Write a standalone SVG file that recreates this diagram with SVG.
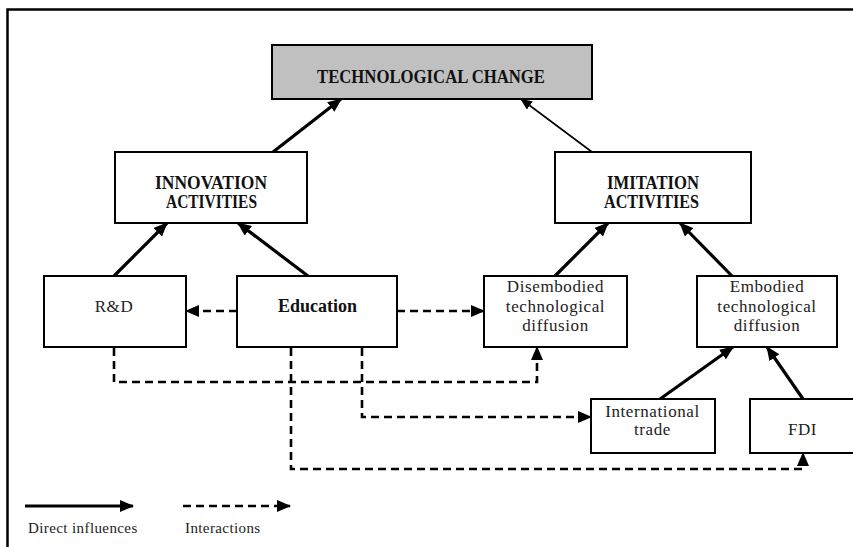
<svg xmlns="http://www.w3.org/2000/svg" width="853" height="547" viewBox="0 0 853 547">
  <style>
    .box { fill: #ffffff; stroke: #000000; stroke-width: 2; }
    .grey { fill: #c0c0c0; }
    .caps { font-family: "Liberation Serif", "DejaVu Serif", serif; font-size: 18px; font-weight: bold; fill: #111111; text-anchor: middle; }
    .small { font-family: "Liberation Serif", "DejaVu Serif", serif; font-size: 17px; letter-spacing: 0.6px; fill: #222222; text-anchor: middle; }
    .edu { font-family: "Liberation Serif", "DejaVu Serif", serif; font-size: 18px; font-weight: bold; fill: #111111; text-anchor: middle; }
    .legend { font-family: "Liberation Serif", "DejaVu Serif", serif; font-size: 15px; letter-spacing: 0.4px; fill: #222222; }
    .solid { fill: none; stroke: #000000; stroke-width: 3.2; }
    .thin { fill: none; stroke: #000000; stroke-width: 1.6; }
    .dash { fill: none; stroke: #000000; stroke-width: 2.6; stroke-dasharray: 8 5; }
  </style>
  <defs>
    <marker id="head" markerUnits="userSpaceOnUse" markerWidth="14" markerHeight="12" refX="13" refY="6" orient="auto">
      <path d="M0,0 L14,6 L0,12 Z" fill="#000000"/>
    </marker>
    <marker id="headSmall" markerUnits="userSpaceOnUse" markerWidth="12" markerHeight="10" refX="11" refY="5" orient="auto">
      <path d="M0,0 L12,5 L0,10 Z" fill="#000000"/>
    </marker>
  </defs>

  <rect width="853" height="547" fill="#ffffff"/>
  <!-- outer frame (top and left edges) -->
  <path d="M7.5,547 V9.5 H853" fill="none" stroke="#000000" stroke-width="2.5"/>

  <g id="connectors">
    <!-- direct influences -->
    <line class="solid" x1="273" y1="152" x2="341" y2="99" marker-end="url(#head)"/>
    <line class="thin" x1="592" y1="152" x2="521" y2="99" marker-end="url(#headSmall)"/>
    <line class="solid" x1="114" y1="276" x2="167" y2="223" marker-end="url(#head)"/>
    <line class="solid" x1="308" y1="276" x2="238" y2="223" marker-end="url(#head)" stroke-width="3.6"/>
    <line class="solid" x1="555" y1="276" x2="608" y2="223" marker-end="url(#head)"/>
    <line class="solid" x1="732" y1="276" x2="680" y2="223" marker-end="url(#head)" stroke-width="3.6"/>
    <line class="solid" x1="660" y1="399" x2="733" y2="347" marker-end="url(#head)" stroke-width="3.6"/>
    <line class="solid" x1="803" y1="399" x2="767" y2="347" marker-end="url(#head)" stroke-width="2.4"/>
    <!-- interactions -->
    <path class="dash" d="M237,311 H186" marker-end="url(#head)"/>
    <path class="dash" d="M397,311 H484" marker-end="url(#head)"/>
    <path class="dash" d="M114,348 V382 H537 V347" marker-end="url(#head)"/>
    <path class="dash" d="M362,348 V417 H591" marker-end="url(#head)"/>
    <path class="dash" d="M291,348 V469 H803 V453" marker-end="url(#head)"/>
  </g>

  <g id="technological-change">
    <rect class="box grey" x="272" y="45" width="320" height="54"/>
    <text class="caps" x="431" y="83" font-size="19" textLength="228" lengthAdjust="spacingAndGlyphs">TECHNOLOGICAL CHANGE</text>
  </g>

  <g id="innovation-activities">
    <rect class="box" x="115" y="152" width="192" height="71"/>
    <text class="caps" x="211" y="189" textLength="112" lengthAdjust="spacingAndGlyphs">INNOVATION</text>
    <text class="caps" x="211.5" y="208" textLength="91" lengthAdjust="spacingAndGlyphs">ACTIVITIES</text>
  </g>

  <g id="imitation-activities">
    <rect class="box" x="555" y="152" width="196" height="71"/>
    <text class="caps" x="653" y="189" textLength="92" lengthAdjust="spacingAndGlyphs">IMITATION</text>
    <text class="caps" x="651.5" y="208" textLength="95" lengthAdjust="spacingAndGlyphs">ACTIVITIES</text>
  </g>

  <g id="rnd">
    <rect class="box" x="44" y="276" width="142" height="71"/>
    <text class="small" x="114" y="312" font-size="16" letter-spacing="-0.5">R&amp;D</text>
  </g>

  <g id="education">
    <rect class="box" x="237" y="276" width="160" height="71"/>
    <text class="edu" x="317.5" y="312" textLength="79" lengthAdjust="spacingAndGlyphs">Education</text>
  </g>

  <g id="disembodied-diffusion">
    <rect class="box" x="484" y="276" width="143" height="71"/>
    <text class="small" x="555.5" y="292">Disembodied</text>
    <text class="small" x="555.5" y="312">technological</text>
    <text class="small" x="555.5" y="331">diffusion</text>
  </g>

  <g id="embodied-diffusion">
    <rect class="box" x="697" y="276" width="140" height="71"/>
    <text class="small" x="767" y="292">Embodied</text>
    <text class="small" x="767" y="312">technological</text>
    <text class="small" x="767" y="331">diffusion</text>
  </g>

  <g id="international-trade">
    <rect class="box" x="591" y="399" width="124" height="54"/>
    <text class="small" x="652.5" y="417">International</text>
    <text class="small" x="652.5" y="435">trade</text>
  </g>

  <g id="fdi">
    <rect class="box" x="750" y="399" width="104" height="54"/>
    <text class="small" x="802.5" y="435">FDI</text>
  </g>

  <g id="legend">
    <line class="solid" x1="25" y1="506" x2="133" y2="506" marker-end="url(#head)" stroke-width="3"/>
    <line class="dash" x1="183" y1="506" x2="290" y2="506" marker-end="url(#head)"/>
    <text class="legend" x="28" y="533">Direct influences</text>
    <text class="legend" x="185" y="533">Interactions</text>
  </g>
</svg>
